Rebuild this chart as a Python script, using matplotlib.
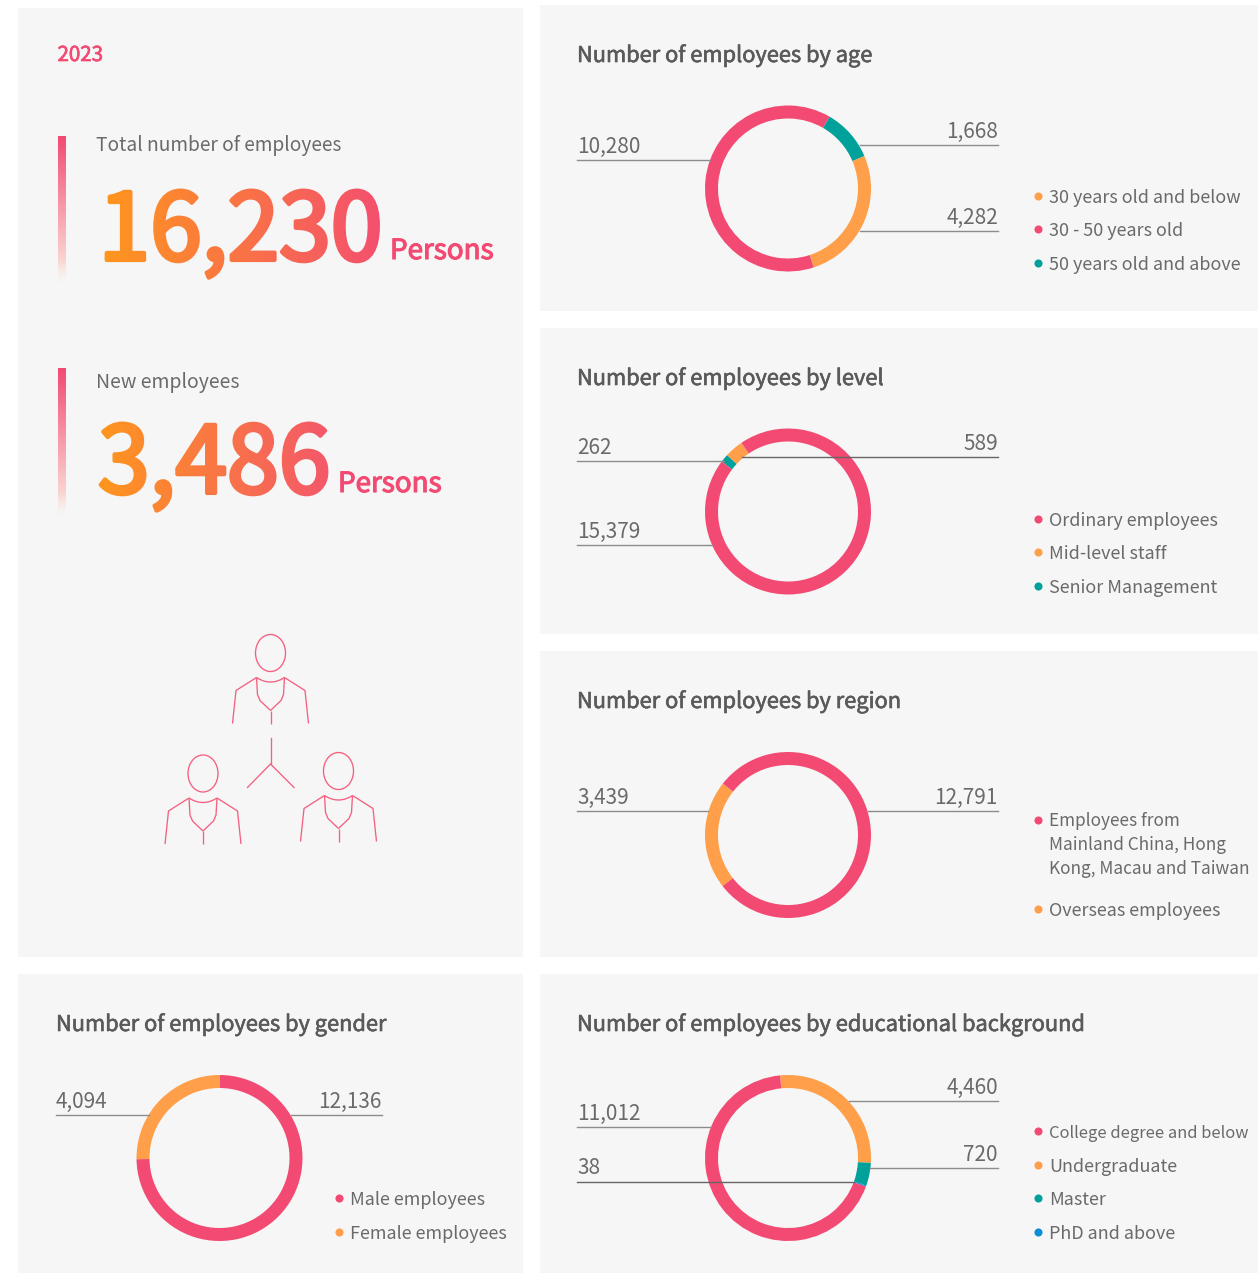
import numpy as np
import matplotlib
matplotlib.use("Agg")
import matplotlib.pyplot as plt
import matplotlib.patheffects as pe
from matplotlib.patches import Rectangle, Ellipse

W, H = 1258, 1273
FONT = ['Noto Sans CJK SC', 'DejaVu Sans']
plt.rcParams['font.family'] = FONT

# ---------- data ----------
year_label = "2023"
total_label = "Total number of employees"
total_value = "16,230"
new_label = "New employees"
new_value = "3,486"
unit_label = "Persons"

age_title = "Number of employees by age"
age_labels = ["50 years old and above", "30 years old and below", "30 - 50 years old"]
age_values = [1668, 4282, 10280]

level_title = "Number of employees by level"
level_labels = ["Senior Management", "Mid-level staff", "Ordinary employees"]
level_values = [262, 589, 15379]

region_title = "Number of employees by region"
region_labels = ["Overseas employees", "Employees from\nMainland China, Hong\nKong, Macau and Taiwan"]
region_values = [3439, 12791]

gender_title = "Number of employees by gender"
gender_labels = ["Male employees", "Female employees"]
gender_values = [12136, 4094]

edu_title = "Number of employees by educational background"
edu_labels = ["Undergraduate", "Master", "PhD and above", "College degree and below"]
edu_values = [4460, 720, 38, 11012]

# ---------- style ----------
PINK, ORANGE, TEAL, BLUE = "#f24a72", "#ff9f4a", "#00a19a", "#0a8fd6"
PANEL = "#f6f6f6"
TXT = "#6a6a6a"
TITLE = "#5a5a5a"
RULE = "#8c8c8c"
LINE = "#f4607f"
LEG_SIZE = 18.0
NUM_SIZE = 20.8

fig = plt.figure(figsize=(W / 100, H / 100), dpi=100, facecolor="white")
bg = fig.add_axes([0, 0, 1, 1])
bg.set_xlim(0, W)
bg.set_ylim(H, 0)
bg.axis("off")

panels = [(18, 8, 505, 949), (540, 5, 718, 306), (540, 328, 718, 306), (540, 651, 718, 306),
          (18, 974, 505, 299), (540, 974, 718, 299)]
for x, y, w, h in panels:
    bg.add_patch(Rectangle((x, y), w, h, fc=PANEL, ec="none", zorder=0))


def px(s):
    return s * 0.72


def gradient_filter(c0, c1):
    c0, c1 = np.array(matplotlib.colors.to_rgb(c0)), np.array(matplotlib.colors.to_rgb(c1))

    def f(img, dpi):
        out = img.copy()
        t = np.linspace(0, 1, img.shape[1])[None, :, None]
        out[..., :3] = c0 * (1 - t) + c1 * t
        return out, 0, 0
    return f


def label(x, y, s, size, color=TXT, stroke=0.0, ha="left", va="baseline", **kw):
    t = bg.text(x, y, s, fontsize=px(size), color=color, fontweight=400, ha=ha, va=va, **kw)
    if stroke:
        t.set_path_effects([pe.withStroke(linewidth=stroke, foreground=color)])
    return t


# ---------- left panel ----------
label(57.5, 61, year_label, 20.5, PINK, 0.5)


def vbar(y0, y1):
    grad = np.ones((256, 1, 4))
    c = np.linspace(0, 1, 256)[:, None, None]
    start = np.array(matplotlib.colors.to_rgb(PINK))
    end = np.array(matplotlib.colors.to_rgb("#fbeee2"))
    grad[..., :3] = start * (1 - c) + end * c
    grad[..., 3] = np.where(c[..., 0] > 0.85, (1 - c[..., 0]) / 0.15, 1)
    bg.imshow(grad, extent=(58, 66, y1, y0), aspect="auto", zorder=1)
    bg.set_xlim(0, W)
    bg.set_ylim(H, 0)


vbar(136, 283)
vbar(368, 516)
label(96, 151, total_label, 19.2)
label(96, 388, new_label, 19.4)

t = label(98.5, 260, total_value, 93, ORANGE, 3.0)
t.set_agg_filter(gradient_filter("#ff961e", "#f4506e"))
label(390, 259, unit_label, 27.8, PINK, 0.8)

t = label(98, 493, new_value, 93, ORANGE, 3.0)
t.set_agg_filter(gradient_filter("#ff961e", "#f4586a"))
label(338, 492, unit_label, 27.8, PINK, 0.8)


# ---------- pictogram ----------
def person(cx, cy):
    kw = dict(color=LINE, lw=0.95, solid_capstyle="butt", zorder=2)
    bg.add_patch(Ellipse((cx, cy), 30, 37, fc="none", ec=LINE, lw=0.95))
    top = cy + 24.5
    for s in (-1, 1):
        bg.plot([cx + s * 14, cx + s * 34.5, cx + s * 38],
                [top, top + 13, top + 46], **kw)
        yy = np.array([top, top + 17, top + 23, top + 33])
        xx = np.array([14, 13, 10.5, 0]) * s + cx
        bg.plot(xx, yy, **kw)
    a = np.linspace(-1, 1, 21)
    bg.plot(cx + 14 * a, top + 4.5 * (1 - a ** 2), **kw)
    bg.plot([cx, cx], [top + 33, top + 46], **kw)


person(270.5, 653)
person(203, 773.5)
person(338.5, 771)
bg.plot([270.5, 270.5], [738, 764], color=LINE, lw=0.95)
bg.plot([247.5, 270.5, 294], [787.5, 764, 787.5], color=LINE, lw=0.95)


# ---------- donuts ----------
def donut(cx, cy, values, colors, start_cw):
    R = 83
    ax = fig.add_axes([(cx - R - 1) / W, 1 - (cy + R + 1) / H, (2 * R + 2) / W, (2 * R + 2) / H])
    ax.pie(values, colors=colors, startangle=90 - start_cw, counterclock=False, radius=1,
           wedgeprops=dict(width=13 / R, linewidth=0))
    ax.set_xlim(-(R + 1) / R, (R + 1) / R)
    ax.set_ylim(-(R + 1) / R, (R + 1) / R)
    ax.set_aspect("equal")
    ax.axis("off")
    ax.set_zorder(1)
    ax.patch.set_alpha(0)


def leader(x0, x1, y, value, side, top=False):
    overlay.plot([x0, x1], [y, y], color=RULE if not top else "#666666", lw=1.0, zorder=5)
    tx = x0 if side == "l" else x1
    overlay.text(tx, y - 7, f"{value:,}", fontsize=px(NUM_SIZE), color=TXT, fontweight=400,
                 ha="left" if side == "l" else "right", va="baseline", zorder=5)


def legend_items(x, items, size=LEG_SIZE):
    for y, s, c in items:
        bg.scatter([x], [y], s=34, color=c, linewidths=0, zorder=3)
        bg.text(x + 11, y + 2, s, fontsize=px(size), color=TXT, fontweight=400, va="center", ha="left")


def title(x, y, s):
    label(x, y, s, 21.8, TITLE, 0.45)


title(577, 62, age_title)
donut(788, 188.5, age_values, [TEAL, ORANGE, PINK], 30)
title(577, 385, level_title)
donut(788, 511.5, level_values, [TEAL, ORANGE, PINK], -53)
title(577, 708, region_title)
donut(788, 835, region_values, [ORANGE, PINK], 232)
title(56, 1031, gender_title)
donut(219.5, 1158, gender_values, [PINK, ORANGE], 0)
title(577, 1031, edu_title)
donut(788, 1158, edu_values, [ORANGE, TEAL, BLUE, PINK], -5.5)

overlay = fig.add_axes([0, 0, 1, 1])
overlay.set_xlim(0, W)
overlay.set_ylim(H, 0)
overlay.axis("off")
overlay.patch.set_alpha(0)
overlay.set_zorder(5)

leader(577, 710, 160, age_values[2], "l")
leader(860, 998, 145, age_values[0], "r")
leader(860, 998, 231, age_values[1], "r")

leader(577, 724, 460.5, level_values[0], "l")
leader(742, 998, 457, level_values[1], "r", True)
leader(577, 712, 545, level_values[2], "l")

leader(577, 708, 811, region_values[0], "l")
leader(868, 998, 811, region_values[1], "r")

leader(56, 149, 1115, gender_values[1], "l")
leader(291, 382, 1115, gender_values[0], "r")

leader(577, 711, 1127, edu_values[3], "l")
leader(849, 998, 1101, edu_values[0], "r")
leader(870, 998, 1168, edu_values[1], "r")
leader(577, 854, 1181.5, edu_values[2], "l", True)

legend_items(1038, [(196, age_labels[1], ORANGE), (229, age_labels[2], PINK), (263, age_labels[0], TEAL)])
legend_items(1038, [(519, level_labels[2], PINK), (552, level_labels[1], ORANGE), (586, level_labels[0], TEAL)])
bg.scatter([1038], [820], s=34, color=PINK, linewidths=0, zorder=3)
bg.text(1049, 845, region_labels[1], fontsize=px(17.2), color=TXT, fontweight=400, va="center", linespacing=1.42)
legend_items(1038, [(909, region_labels[0], ORANGE)])
legend_items(339, [(1198, gender_labels[0], PINK), (1232, gender_labels[1], ORANGE)])
legend_items(1038, [(1131, edu_labels[3], PINK)], size=16.5)
legend_items(1038, [(1165, edu_labels[0], ORANGE), (1198, edu_labels[1], TEAL), (1232, edu_labels[2], BLUE)])

fig.savefig("out.png", dpi=100, facecolor="white")
